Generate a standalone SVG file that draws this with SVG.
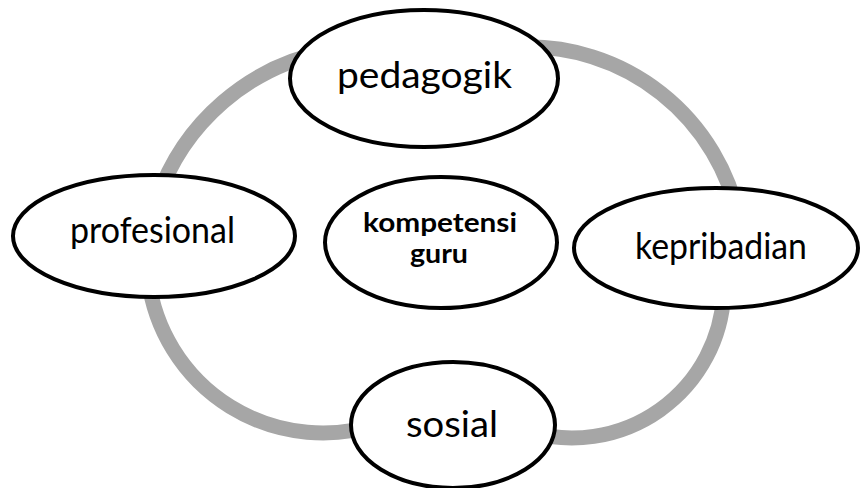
<svg xmlns="http://www.w3.org/2000/svg" width="860" height="488" viewBox="0 0 860 488">
<style>
.ring{fill:none;stroke:#A6A6A6;stroke-width:15}
.node ellipse{fill:#FFFFFF;stroke:#000000;stroke-width:4}
.lbl{font-family:Lato,"Open Sans","Liberation Sans",sans-serif;font-size:37px;fill:#000000;text-anchor:middle}
.ctr{font-family:Lato,"Open Sans","Liberation Sans",sans-serif;font-size:26px;font-weight:bold;fill:#000000;text-anchor:middle}
</style>
<rect width="860" height="488" fill="#FFFFFF"/>
<g id="connectors">
<path class="ring" d="M157,200 A225,225 0 0 1 330,51"/>
<path class="ring" d="M520,47 A216,216 0 0 1 739,220"/>
<path class="ring" d="M723.7,295 A152,152 0 0 1 530,432"/>
<path class="ring" d="M380,423.5 A176,176 0 0 1 148.5,280"/>
</g>
<g id="pedagogik" class="node">
<ellipse cx="424" cy="78.5" rx="134" ry="68.5"/>
<text class="lbl" x="424.5" y="88" textLength="175" lengthAdjust="spacingAndGlyphs">pedagogik</text>
</g>
<g id="profesional" class="node">
<ellipse cx="154" cy="236" rx="141" ry="61"/>
<text class="lbl" x="152.5" y="243" textLength="165" lengthAdjust="spacingAndGlyphs">profesional</text>
</g>
<g id="kompetensi-guru" class="node">
<ellipse cx="441" cy="242.5" rx="116" ry="65.5"/>
<text class="ctr" x="440" y="232" textLength="154" lengthAdjust="spacingAndGlyphs">kompetensi</text>
<text class="ctr" x="439" y="263" textLength="58" lengthAdjust="spacingAndGlyphs">guru</text>
</g>
<g id="kepribadian" class="node">
<ellipse cx="716" cy="248" rx="142" ry="60"/>
<text class="lbl" x="721" y="259" textLength="172" lengthAdjust="spacingAndGlyphs">kepribadian</text>
</g>
<g id="sosial" class="node">
<ellipse cx="453" cy="425" rx="102" ry="63"/>
<text class="lbl" x="452" y="437" textLength="92" lengthAdjust="spacingAndGlyphs">sosial</text>
</g>
</svg>
